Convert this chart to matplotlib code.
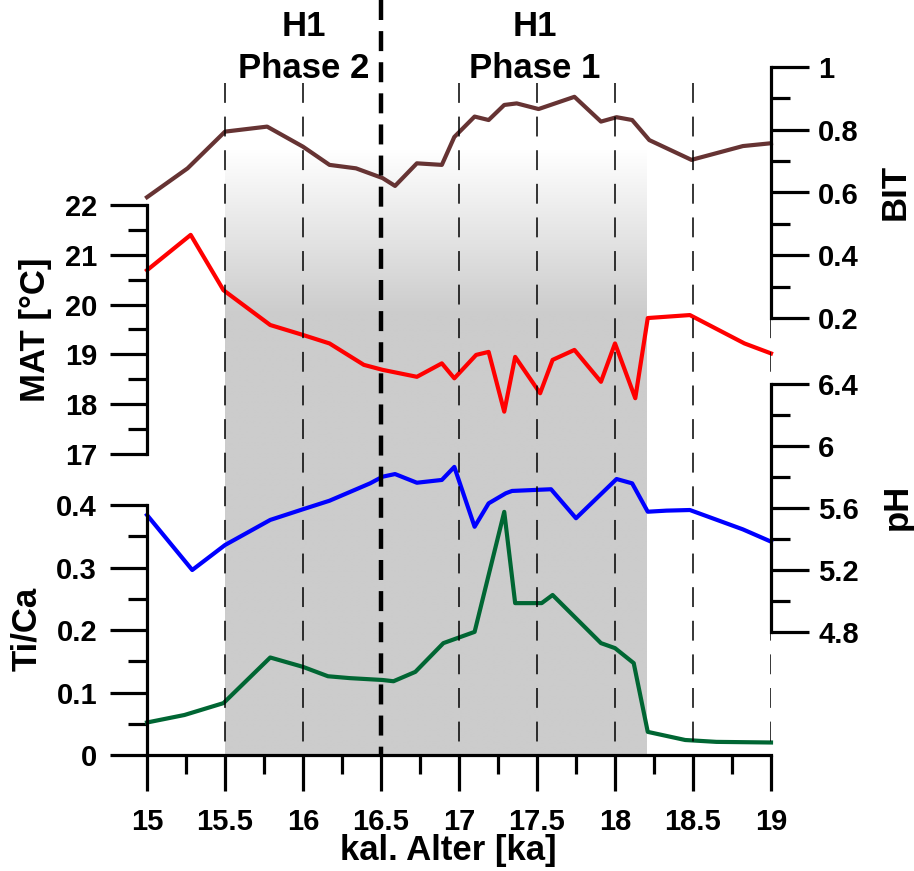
import numpy as np
import matplotlib
matplotlib.use("Agg")
import matplotlib.pyplot as plt
from matplotlib.colors import LinearSegmentedColormap
from matplotlib.ticker import MultipleLocator, FuncFormatter

plt.rcParams['font.family'] = ['Liberation Sans', 'DejaVu Sans']
plt.rcParams['font.weight'] = 'bold'

# BIT index
bit_age = [15.0, 15.26, 15.5, 15.77, 16.0, 16.17, 16.34, 16.51, 16.59, 16.73, 16.89, 16.97, 17.10,
           17.19, 17.29, 17.37, 17.51, 17.74, 17.91, 18.01, 18.11, 18.22, 18.49, 18.82, 19.0]
bit = [0.585, 0.677, 0.794, 0.810, 0.746, 0.688, 0.677, 0.646, 0.621, 0.693, 0.688, 0.777, 0.842,
       0.831, 0.879, 0.884, 0.866, 0.905, 0.826, 0.840, 0.831, 0.767, 0.704, 0.748, 0.757]

# mean annual temperature
mat_age = [15.0, 15.28, 15.49, 15.79, 16.0, 16.17, 16.39, 16.51, 16.73, 16.89, 16.97, 17.11, 17.19,
           17.29, 17.36, 17.52, 17.60, 17.74, 17.91, 18.0, 18.13, 18.21, 18.48, 18.83, 19.0]
mat = [20.69, 21.40, 20.29, 19.59, 19.39, 19.22, 18.79, 18.69, 18.55, 18.82, 18.52, 18.99, 19.05,
       17.85, 18.95, 18.22, 18.89, 19.09, 18.45, 19.22, 18.12, 19.73, 19.79, 19.22, 19.02]

# soil pH
ph_age = [15.0, 15.29, 15.5, 15.79, 16.0, 16.17, 16.43, 16.51, 16.59, 16.73, 16.89, 16.97, 17.10,
          17.19, 17.30, 17.34, 17.59, 17.75, 18.01, 18.11, 18.21, 18.33, 18.48, 18.82, 19.0]
ph = [5.555, 5.20, 5.361, 5.523, 5.592, 5.647, 5.759, 5.802, 5.819, 5.763, 5.781, 5.865, 5.479,
      5.630, 5.695, 5.710, 5.721, 5.534, 5.787, 5.759, 5.576, 5.583, 5.587, 5.462, 5.383]

# Ti/Ca ratio
ti_age = [15.0, 15.24, 15.49, 15.79, 16.0, 16.16, 16.30, 16.51, 16.58, 16.72, 16.90, 17.10, 17.29,
          17.36, 17.53, 17.60, 17.91, 18.0, 18.12, 18.21, 18.45, 18.65, 19.0]
ti = [0.052, 0.064, 0.083, 0.156, 0.141, 0.126, 0.123, 0.120, 0.118, 0.133, 0.179, 0.197, 0.389,
      0.243, 0.243, 0.256, 0.179, 0.171, 0.147, 0.037, 0.024, 0.021, 0.020]

h1_span = (15.5, 18.2)
thin_marks = [15.5, 16.0, 17.0, 17.5, 18.0, 18.5, 19.0]
phase_split = 16.5

W, H = 914, 871
fig = plt.figure(figsize=(W / 100, H / 100), dpi=100)


def rect(top, bottom):
    # pixel rows -> figure fraction, all panels share the same x extent
    return [147 / W, 1 - bottom / H, 624 / W, (bottom - top) / H]


fmt = FuncFormatter(lambda v, p: '%g' % round(v, 3))

# shaded H1 interval, fading out towards the top
bg = fig.add_axes(rect(0, 755))
bg.set_xlim(15, 19)
bg.set_ylim(755, 0)
bg.axis('off')
ys = np.linspace(150, 755, 500)
grad = np.clip((ys - 150) / 165, 0, 1)[:, None]
cmap = LinearSegmentedColormap.from_list('fade', ['#ffffff', '#cccccc'])
bg.imshow(grad, extent=[h1_span[0], h1_span[1], 755, 150], aspect='auto',
          cmap=cmap, vmin=0, vmax=1, interpolation='bilinear')


def panel(top, bottom, lim, major, minor, side):
    ax = fig.add_axes(rect(top, bottom))
    ax.set_facecolor('none')
    ax.set_xlim(15, 19)
    ax.set_ylim(*lim)
    for s in ax.spines.values():
        s.set_visible(False)
    ax.spines[side].set_visible(True)
    ax.spines[side].set_linewidth(2.3)
    ax.yaxis.set_major_locator(MultipleLocator(major))
    ax.yaxis.set_minor_locator(MultipleLocator(minor))
    ax.yaxis.set_major_formatter(fmt)
    if side == 'right':
        ax.yaxis.tick_right()
        ax.tick_params(axis='y', which='major', pad=7)
    else:
        ax.tick_params(axis='y', which='major', pad=9)
    ax.tick_params(axis='y', which='major', length=27, width=2.3, labelsize=21)
    ax.tick_params(axis='y', which='minor', length=14, width=2.3)
    ax.set_xticks([])
    return ax


ax_bit = panel(67, 318, (0.2, 1.0), 0.2, 0.1, 'right')
ax_mat = panel(205, 454, (17, 22), 1, 0.5, 'left')
ax_ph = panel(384, 632, (4.8, 6.4), 0.4, 0.2, 'right')
ax_ti = panel(505, 755, (0, 0.4), 0.1, 0.05, 'left')

ax_ti.spines['bottom'].set_visible(True)
ax_ti.spines['bottom'].set_linewidth(2.3)
ax_ti.xaxis.set_major_locator(MultipleLocator(0.5))
ax_ti.xaxis.set_minor_locator(MultipleLocator(0.25))
ax_ti.xaxis.set_major_formatter(fmt)
ax_ti.tick_params(axis='x', which='major', length=26, width=2.3, labelsize=21, pad=12)
ax_ti.tick_params(axis='x', which='minor', length=14, width=2.3)

lw = 3.0
ax_bit.plot(bit_age, bit, color='#663333', lw=lw, clip_on=False)
ax_mat.plot(mat_age, mat, color='#ff0000', lw=lw, clip_on=False)
ax_ph.plot(ph_age, ph, color='#0000ff', lw=lw, clip_on=False)
ax_ti.plot(ti_age, ti, color='#006633', lw=lw, clip_on=False)

# dashed age markers on top of everything
top = fig.add_axes(rect(0, 755))
top.set_facecolor('none')
top.set_xlim(15, 19)
top.set_ylim(755, 0)
top.axis('off')
top.vlines(thin_marks, 83, 755, colors='black', lw=1.1, linestyles=(0, (13, 9)))
top.vlines(phase_split, 0, 755, colors='black', lw=3.2, linestyles=(0, (4.5, 2.5)))

fs = 25
fig.text(36 / W, 1 - 330 / H, 'MAT [°C]', rotation=90, ha='center', va='center', fontsize=fs)
fig.text(27 / W, 1 - 629 / H, 'Ti/Ca', rotation=90, ha='center', va='center', fontsize=fs)
fig.text(895 / W, 1 - 192 / H, 'BIT', rotation=90, ha='center', va='center', fontsize=fs)
fig.text(897 / W, 1 - 507 / H, 'pH', rotation=90, ha='center', va='center', fontsize=fs)
fig.text(448 / W, 1 - 850 / H, 'kal. Alter [ka]', ha='center', va='center', fontsize=fs)

for x, name in [(304, 'Phase 2'), (535, 'Phase 1')]:
    fig.text(x / W, 1 - 36 / H, 'H1', ha='center', va='baseline', fontsize=fs)
    fig.text(x / W, 1 - 78 / H, name, ha='center', va='baseline', fontsize=fs)

fig.savefig('out.png', dpi=100)
